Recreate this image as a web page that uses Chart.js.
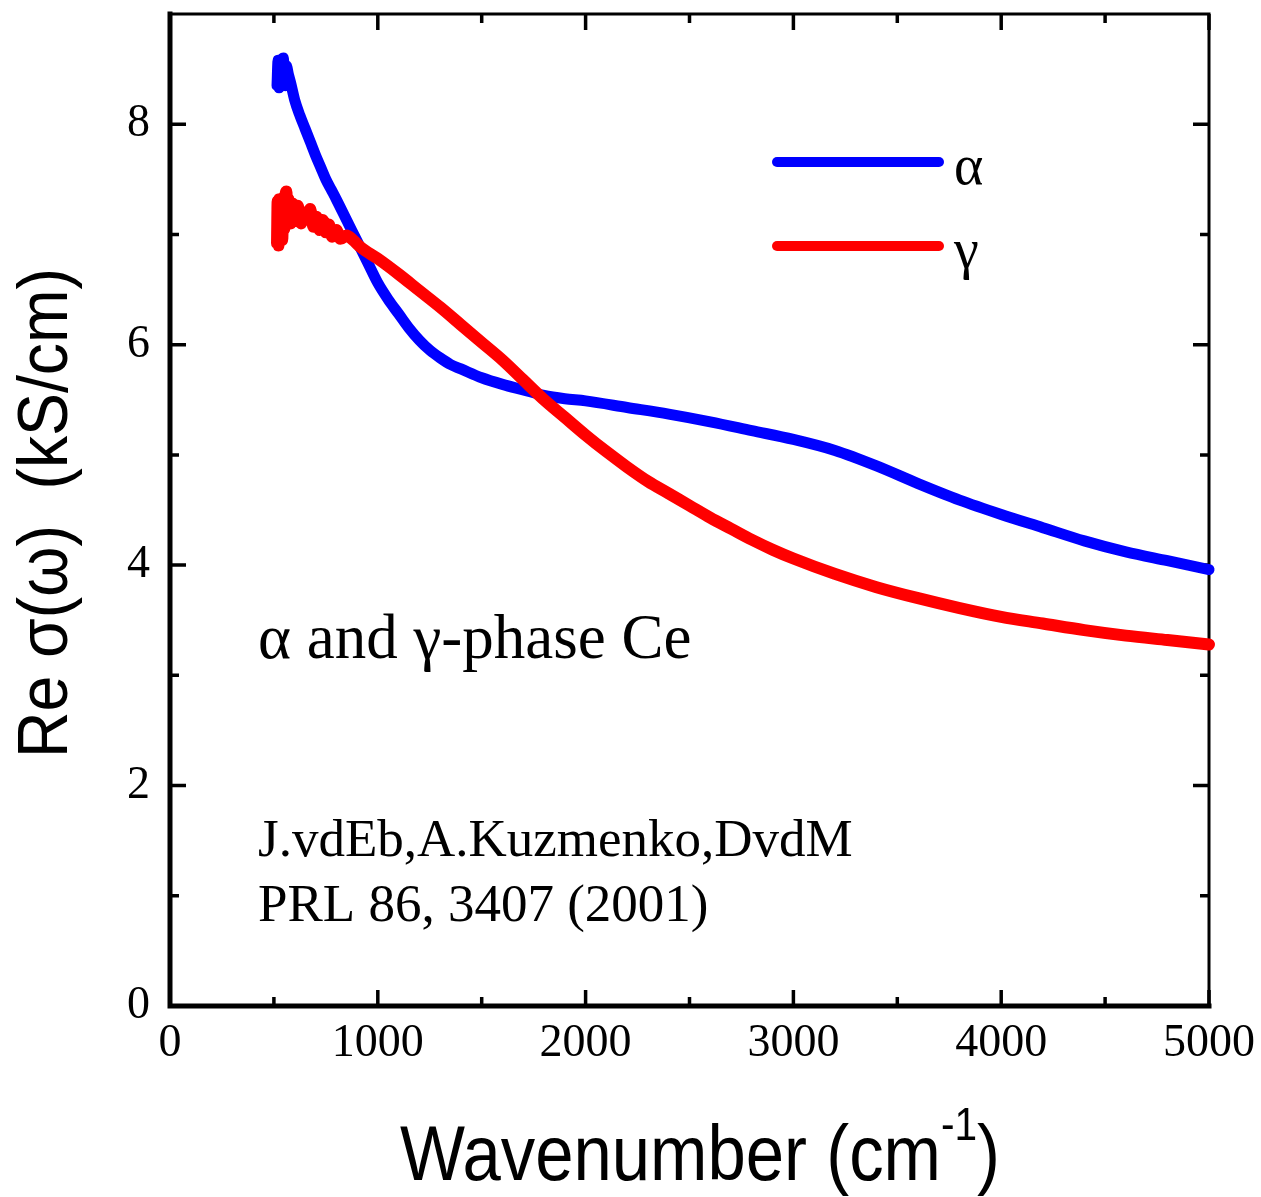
<!DOCTYPE html>
<html>
<head>
<meta charset="utf-8">
<script src="https://cdn.jsdelivr.net/npm/chart.js@4.4.0/dist/chart.umd.min.js"></script>
<style>
  html, body { margin: 0; padding: 0; background: #fff; }
  #wrap { width: 1261px; height: 1197px; }
</style>
</head>
<body>
<div id="wrap"><canvas id="ce" width="1261" height="1197"></canvas></div>
<script>
/* Optical conductivity of alpha and gamma Ce */

const ALPHA_WN = [515, 520, 525, 530, 535, 540, 545, 550, 555, 560, 570, 580, 600, 625, 650, 675, 700, 725, 750, 775,
  800, 850, 900, 950, 1000, 1050, 1100, 1150, 1200, 1250, 1300, 1350, 1400, 1500, 1600, 1700, 1800, 1900, 2000,
  2200, 2400, 2600, 2800, 3000, 3200, 3400, 3600, 3800, 4000, 4200, 4400, 4600, 4800, 5000];
const ALPHA_SIGMA = [8.35, 8.58, 8.33, 8.53, 8.4, 8.58, 8.6, 8.48, 8.35, 8.53, 8.45, 8.38, 8.22, 8.08, 7.96, 7.84, 7.72, 7.61, 7.5, 7.41,
  7.32, 7.13, 6.94, 6.75, 6.56, 6.41, 6.28, 6.15, 6.04, 5.95, 5.88, 5.82, 5.78, 5.7, 5.64, 5.59, 5.54, 5.51, 5.49,
  5.43, 5.37, 5.3, 5.22, 5.14, 5.04, 4.9, 4.74, 4.59, 4.46, 4.34, 4.22, 4.12, 4.04, 3.96];

const GAMMA_WN = [515, 518, 522, 526, 530, 535, 540, 545, 550, 555, 560, 565, 570, 580, 590, 600, 615, 630, 645, 660,
  675, 690, 705, 720, 735, 750, 765, 780, 800, 820, 850, 880, 920, 1000, 1100, 1200, 1300, 1400, 1500, 1600,
  1700, 1800, 1900, 2000, 2100, 2200, 2300, 2400, 2500, 2600, 2700, 2800, 2900, 3000, 3200, 3400, 3600, 3800, 4000, 4200,
  4400, 4600, 4800, 5000];
const GAMMA_SIGMA = [6.92, 7.3, 6.9, 7.32, 7.0, 7.25, 6.95, 7.28, 7.05, 7.36, 7.39, 7.15, 7.32, 7.1, 7.28, 7.12, 7.26, 7.1, 7.2, 7.14,
  7.23, 7.07, 7.16, 7.04, 7.13, 7.02, 7.09, 6.98, 7.04, 6.96, 6.99, 6.95, 6.88, 6.78, 6.64, 6.49, 6.34, 6.18, 6.02, 5.86,
  5.68, 5.5, 5.34, 5.18, 5.03, 4.89, 4.76, 4.65, 4.54, 4.43, 4.33, 4.23, 4.14, 4.06, 3.92, 3.8, 3.7, 3.61, 3.53, 3.47,
  3.41, 3.36, 3.32, 3.28];

const SERIES_LABELS = ['α', 'γ'];
const SERIES_COLORS = ['#0000ff', '#ff0000'];

const X_MAJOR = [0, 1000, 2000, 3000, 4000, 5000];
const X_MINOR = [500, 1500, 2500, 3500, 4500];
const Y_MAJOR = [0, 2, 4, 6, 8];
const Y_MINOR = [1, 3, 5, 7];

const SERIF = '"Liberation Serif", "DejaVu Serif", serif';
const SANS = '"Liberation Sans", Arial, sans-serif';

const toPoints = (xs, ys) => xs.map((x, i) => ({ x, y: ys[i] }));

// draws text squeezed horizontally so it spans `width` pixels
function fitText(ctx, text, x, y, width) {
  const w = ctx.measureText(text).width;
  ctx.save();
  ctx.translate(x, y);
  ctx.scale(width / w, 1);
  ctx.fillText(text, 0, 0);
  ctx.restore();
}

// pin the plot box: no extra room reserved for overhanging tick labels
function pinScale(size, key) {
  return s => {
    s[key] = size;
    s.paddingTop = 0;
    s.paddingBottom = 0;
    s.paddingLeft = 0;
    s.paddingRight = 0;
  };
}

const framePlugin = {
  id: 'frame',
  beforeDatasetsDraw(chart) {
    const { ctx, chartArea: a, scales: { x, y } } = chart;
    ctx.save();
    ctx.strokeStyle = '#000';
    ctx.lineCap = 'square';
    ctx.lineWidth = 3;
    ctx.beginPath();
    ctx.moveTo(a.left, a.top); ctx.lineTo(a.right, a.top); ctx.lineTo(a.right, a.bottom);
    ctx.stroke();
    ctx.lineWidth = 5;
    ctx.beginPath();
    ctx.moveTo(a.left, a.top); ctx.lineTo(a.left, a.bottom); ctx.lineTo(a.right, a.bottom);
    ctx.stroke();

    ctx.lineWidth = 3.5;
    ctx.lineCap = 'butt';
    const xTick = (v, len) => {
      const px = x.getPixelForValue(v);
      ctx.beginPath();
      ctx.moveTo(px, a.bottom); ctx.lineTo(px, a.bottom - len);
      ctx.moveTo(px, a.top); ctx.lineTo(px, a.top + len);
      ctx.stroke();
    };
    const yTick = (v, len) => {
      const py = y.getPixelForValue(v);
      ctx.beginPath();
      ctx.moveTo(a.left, py); ctx.lineTo(a.left + len, py);
      ctx.moveTo(a.right, py); ctx.lineTo(a.right - len, py);
      ctx.stroke();
    };
    X_MAJOR.forEach(v => xTick(v, 16));
    X_MINOR.forEach(v => xTick(v, 9));
    Y_MAJOR.forEach(v => yTick(v, 16));
    Y_MINOR.forEach(v => yTick(v, 9));
    ctx.restore();
  },
  afterDraw(chart) {
    const { ctx } = chart;
    ctx.save();
    ctx.fillStyle = '#000';

    // legend
    chart.data.datasets.forEach((ds, i) => {
      const ly = 162 + i * 84;
      ctx.strokeStyle = ds.borderColor;
      ctx.lineWidth = 10;
      ctx.lineCap = 'round';
      ctx.beginPath();
      ctx.moveTo(777, ly); ctx.lineTo(939, ly);
      ctx.stroke();
      ctx.font = '56px ' + SERIF;
      ctx.textAlign = 'left';
      ctx.textBaseline = 'alphabetic';
      ctx.fillText(ds.label, 954, ly + 22);
    });

    // notes inside the frame
    ctx.font = '63px ' + SERIF;
    ctx.fillText('α and γ-phase Ce', 258, 658);
    ctx.font = '53px ' + SERIF;
    ctx.fillText('J.vdEb,A.Kuzmenko,DvdM', 258, 856);
    ctx.fillText('PRL 86, 3407 (2001)', 258, 921);

    // x axis title with superscript
    ctx.font = '78px ' + SANS;
    const main = 'Wavenumber (cm';
    const wMain = ctx.measureText(main).width;
    ctx.font = '46px ' + SANS;
    const wSup = ctx.measureText('-1').width;
    ctx.font = '78px ' + SANS;
    const wEnd = ctx.measureText(')').width;
    const sx = 600 / (wMain + wSup + wEnd);
    ctx.save();
    ctx.translate(400, 1180);
    ctx.scale(sx, 1);
    ctx.fillText(main, 0, 0);
    ctx.font = '46px ' + SANS;
    ctx.fillText('-1', wMain, -40);
    ctx.font = '78px ' + SANS;
    ctx.fillText(')', wMain + wSup, 0);
    ctx.restore();

    // y axis title
    ctx.save();
    ctx.translate(67, 513);
    ctx.rotate(-Math.PI / 2);
    ctx.font = '70px ' + SANS;
    ctx.textAlign = 'left';
    fitText(ctx, 'Re σ(ω)  (kS/cm)', -245, 0, 490);
    ctx.restore();

    ctx.restore();
  }
};

new Chart(document.getElementById('ce'), {
  type: 'scatter',
  data: {
    datasets: [
      {
        label: SERIES_LABELS[0],
        data: toPoints(ALPHA_WN, ALPHA_SIGMA),
        borderColor: SERIES_COLORS[0],
        backgroundColor: SERIES_COLORS[0],
        borderWidth: 11,
        order: 1
      },
      {
        label: SERIES_LABELS[1],
        data: toPoints(GAMMA_WN, GAMMA_SIGMA),
        borderColor: SERIES_COLORS[1],
        backgroundColor: SERIES_COLORS[1],
        borderWidth: 12,
        order: 0
      }
    ].map(ds => Object.assign(ds, {
      showLine: true,
      pointRadius: 0,
      cubicInterpolationMode: 'monotone',
      borderCapStyle: 'round',
      borderJoinStyle: 'round',
      clip: false
    }))
  },
  options: {
    responsive: false,
    animation: false,
    devicePixelRatio: 1,
    layout: { padding: { left: 0, top: 14, right: 52, bottom: 0 } },
    plugins: { legend: { display: false }, tooltip: { enabled: false } },
    scales: {
      x: {
        type: 'linear',
        min: 0,
        max: 5000,
        grid: { display: false, drawTicks: false },
        border: { display: false },
        ticks: { color: '#000', padding: 10, font: { family: SERIF, size: 46 }, callback: v => String(v) },
        afterBuildTicks: s => { s.ticks = X_MAJOR.map(v => ({ value: v })); },
        afterFit: pinScale(191, 'height')
      },
      y: {
        type: 'linear',
        min: 0,
        max: 9,
        grid: { display: false, drawTicks: false },
        border: { display: false },
        ticks: { color: '#000', padding: 20, font: { family: SERIF, size: 46 }, callback: v => String(v) },
        afterBuildTicks: s => { s.ticks = Y_MAJOR.map(v => ({ value: v })); },
        afterFit: pinScale(170, 'width')
      }
    }
  },
  plugins: [framePlugin]
});
</script>
</body>
</html>
